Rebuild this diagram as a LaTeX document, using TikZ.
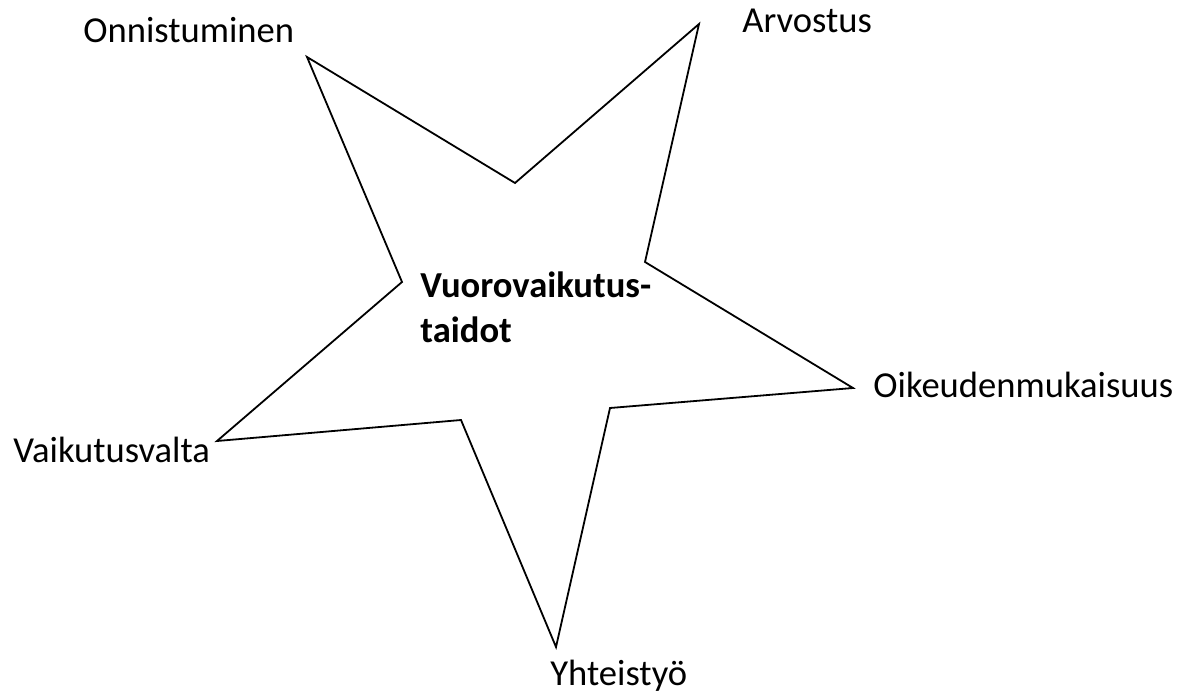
\documentclass[tikz,border=0pt]{standalone}
\usepackage{fontspec}
\setmainfont{Carlito}
\usepackage{tikz}
\usetikzlibrary{positioning}

\begin{document}
\begin{tikzpicture}[x=0.5pt, y=-0.5pt,
    font=\fontsize{18.3}{22.5}\selectfont,
    label/.style={anchor=base west, inner sep=0pt},
    star/.style={draw, line width=0.9pt, line join=miter}]
  \useasboundingbox (0,0) rectangle (1186,695);
  % star points
  \coordinate (tl) at (307,57);
  \coordinate (tr) at (699,24);
  \coordinate (r) at (853,388);
  \coordinate (b) at (556,647);
  \coordinate (l) at (217,441);
  \draw[star] (tl) -- (515,183) -- (tr) -- (645,262) -- (r) -- (610,408)
    -- (b) -- (461,420) -- (l) -- (402,282) -- cycle;
  \node[label, font=\fontsize{18.3}{22.5}\selectfont\bfseries, align=left]
    (centre) at (420,342) {Vuorovaikutus-\\taidot};
  \node[label] (onni) at (83,43) {Onnistuminen};
  \node[label] (arvo) at (742,33) {Arvostus};
  \node[label] (oike) at (873,397) {Oikeudenmukaisuus};
  \node[label] (vaik) at (13,462) {Vaikutusvalta};
  \node[label] (yhte) at (550,685) {Yhteistyö};
\end{tikzpicture}
\end{document}
